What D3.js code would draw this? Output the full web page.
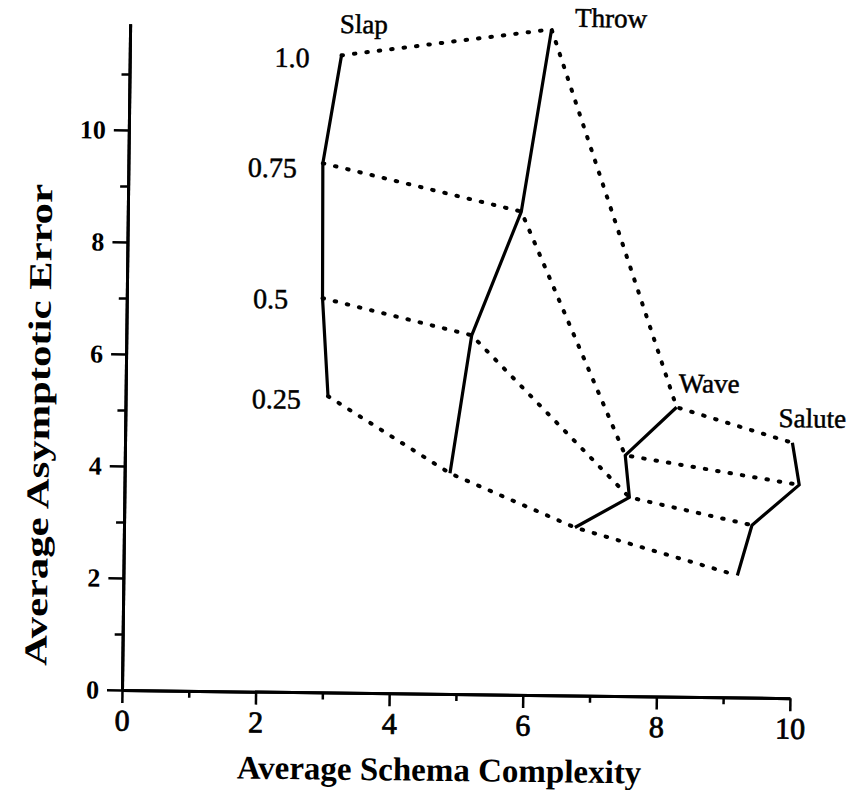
<!DOCTYPE html>
<html>
<head>
<meta charset="utf-8">
<script src="https://cdn.jsdelivr.net/npm/d3@7"></script>
<style>
  html, body { margin: 0; padding: 0; background: #fff; }
  svg { display: block; }
  text { font-family: "Liberation Serif", "Times New Roman", serif; fill: #000; }
</style>
</head>
<body>
<svg id="chart" width="850" height="790"></svg>
<script>
// Gesture series and the four levels plotted for each of them
const series = ["Slap", "Throw", "Wave", "Salute"];
const levelLabels = ["1.0", "0.75", "0.5", "0.25"];

// Average schema complexity (x) and average asymptotic error (y), ordered by level 1.0 .. 0.25
const slapX   = [3.17, 2.91, 2.93, 3.03];
const slapY   = [11.38, 9.45, 7.04, 5.29];
const throwX  = [6.31, 5.89, 5.17, 4.87];
const throwY  = [11.89, 8.63, 6.41, 3.94];
const waveX   = [8.25, 7.49, 7.56, 6.75];
const waveY   = [5.17, 4.30, 3.55, 3.00];
const saluteX = [9.99, 10.10, 9.40, 9.19];
const saluteY = [4.56, 3.81, 3.08, 2.18];

// Axis ticks
const xMajor = [0, 2, 4, 6, 8, 10];
const xMinor = [1, 3, 5, 7, 9];
const yMajor = [0, 2, 4, 6, 8, 10];
const yMinor = [1, 3, 5, 7, 9, 11];

// Label anchors in data units
const seriesLabelPos = [[3.50, 11.78, "middle"], [6.66, 11.94, "start"], [8.28, 5.44, "start"], [9.78, 4.84, "start"]];
const levelLabelPos  = [[2.17, 11.16], [1.79, 9.19], [1.89, 6.85], [1.89, 5.06]];

const xs = [slapX, throwX, waveX, saluteX];
const ys = [slapY, throwY, waveY, saluteY];

const svg = d3.select("#chart");
const ox = 122, oy = 690;
// whole figure sits slightly tilted on the page
const g = svg.append("g").attr("transform", `rotate(0.7, ${ox}, ${oy})`);

const x = d3.scaleLinear().domain([0, 10]).range([ox, 790]);
const y = d3.scaleLinear().domain([0, 11.9]).range([oy, oy - 11.9 * 56]);

// ---- axes ----
const xAxisMinor = d3.axisBottom(x).tickValues(xMinor).tickSize(7).tickSizeOuter(0).tickFormat("");
const xAxis = d3.axisBottom(x).tickValues(xMajor).tickSize(13).tickSizeOuter(0).tickPadding(6).tickFormat(d3.format("d"));
const yAxisMinor = d3.axisLeft(y).tickValues(yMinor).tickSize(8).tickSizeOuter(0).tickFormat("");
const yAxis = d3.axisLeft(y).tickValues(yMajor).tickSize(15).tickSizeOuter(0).tickPadding(8).tickFormat(d3.format("d"));

function styleAxis(sel) {
  sel.select(".domain").attr("stroke", "#000").attr("stroke-width", 3);
  sel.selectAll(".tick line").attr("stroke", "#000").attr("stroke-width", 2.5);
  sel.selectAll(".tick text").style("font-family", '"Liberation Serif", "Times New Roman", serif');
}

g.append("g").attr("transform", `translate(0,${oy})`).call(xAxisMinor).call(styleAxis);
const gx = g.append("g").attr("transform", `translate(0,${oy})`).call(xAxis).call(styleAxis);
gx.selectAll(".tick text")
  .attr("font-size", 30)
  .attr("stroke", "#000").attr("stroke-width", 0.8)
  .attr("dy", "0.72em");

g.append("g").attr("transform", `translate(${ox},0)`).call(yAxisMinor).call(styleAxis);
const gy = g.append("g").attr("transform", `translate(${ox},0)`).call(yAxis).call(styleAxis);
gy.selectAll(".tick text").attr("font-size", 26).attr("font-weight", "bold");

// ---- axis titles ----
g.append("text")
  .attr("x", 440).attr("y", 777)
  .attr("text-anchor", "middle")
  .attr("font-size", 33).attr("font-weight", "bold")
  .text("Average Schema Complexity");

g.append("text")
  .attr("transform", "translate(46,426) rotate(-90)")
  .attr("text-anchor", "middle")
  .attr("font-size", 32).attr("font-weight", "bold")
  .attr("textLength", 482).attr("lengthAdjust", "spacingAndGlyphs")
  .text("Average Asymptotic Error");

// ---- grid of curves ----
const line = d3.line().x(d => x(d[0])).y(d => y(d[1]));

// dotted curves join the same level across the four gestures
levelLabels.forEach((lab, li) => {
  const pts = series.map((s, si) => [xs[si][li], ys[si][li]]);
  g.append("path")
    .attr("d", line(pts))
    .attr("fill", "none")
    .attr("stroke", "#000")
    .attr("stroke-width", 4)
    .attr("stroke-linecap", "round")
    .attr("stroke-dasharray", "1.5 11");
});

// solid curves join the levels within each gesture
series.forEach((s, si) => {
  const pts = levelLabels.map((lab, li) => [xs[si][li], ys[si][li]]);
  g.append("path")
    .attr("d", line(pts))
    .attr("fill", "none")
    .attr("stroke", "#000")
    .attr("stroke-width", 3.2)
    .attr("stroke-linejoin", "round");
});

// ---- labels ----
series.forEach((s, si) => {
  const p = seriesLabelPos[si];
  g.append("text")
    .attr("x", x(p[0])).attr("y", y(p[1]))
    .attr("text-anchor", p[2])
    .attr("font-size", 27)
    .attr("stroke", "#000").attr("stroke-width", 0.5)
    .text(s);
});

levelLabels.forEach((lab, li) => {
  const p = levelLabelPos[li];
  g.append("text")
    .attr("x", x(p[0])).attr("y", y(p[1]))
    .attr("font-size", 28)
    .attr("stroke", "#000").attr("stroke-width", 0.5)
    .text(lab);
});
</script>
</body>
</html>
